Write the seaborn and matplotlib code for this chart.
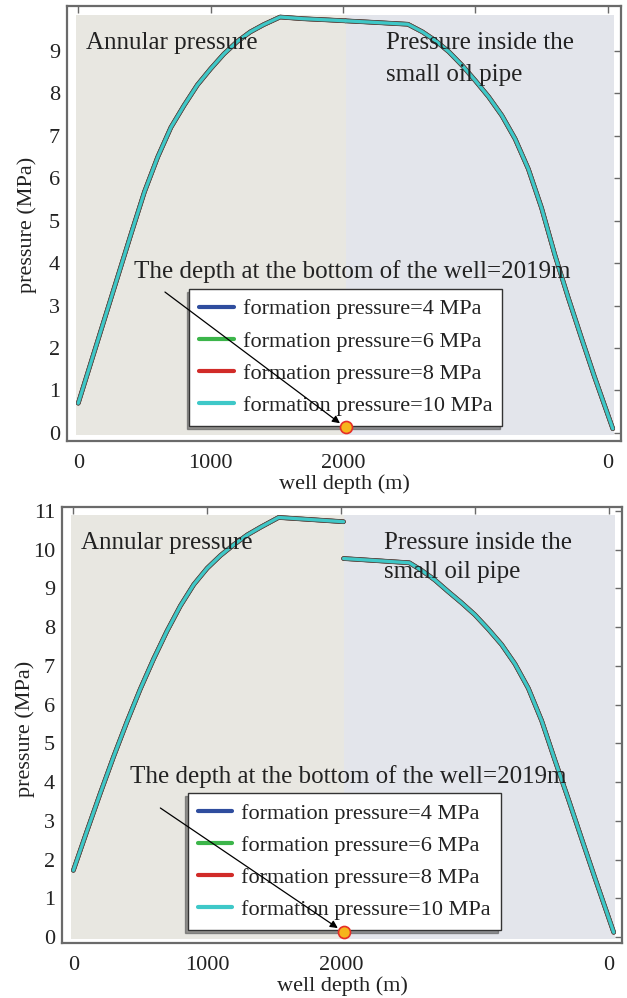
import numpy as np
import pandas as pd
import matplotlib
matplotlib.use("Agg")
import matplotlib.pyplot as plt
from matplotlib.lines import Line2D
from matplotlib.patches import Rectangle
import seaborn as sns

# ---------------- data ----------------
series_names = ["formation pressure=4 MPa", "formation pressure=6 MPa",
                "formation pressure=8 MPa", "formation pressure=10 MPa"]
series_colors = ["#2f4d9e", "#3cb54a", "#d12b28", "#3ec8c8"]

# top panel
top_ann_depth = [0, 100, 200, 300, 400, 500, 600, 700, 800, 900, 1000, 1100, 1200, 1300, 1400, 1525, 1700, 1900, 2019]
top_ann_p = [0.70, 1.70, 2.70, 3.70, 4.70, 5.68, 6.50, 7.20, 7.72, 8.20, 8.58, 8.93, 9.22, 9.45, 9.62, 9.80, 9.76, 9.73, 9.71]
top_tub_depth = [2019, 2200, 2490, 2600, 2700, 2800, 2900, 3000, 3100, 3200, 3300, 3400, 3500, 3600, 3700, 3800, 3900, 4038]
top_tub_p = [9.71, 9.68, 9.63, 9.45, 9.24, 8.98, 8.66, 8.30, 7.92, 7.48, 6.93, 6.22, 5.30, 4.20, 3.20, 2.25, 1.32, 0.10]

# bottom panel
bot_ann_depth = [0, 100, 200, 300, 400, 500, 600, 700, 800, 900, 1000, 1100, 1200, 1300, 1400, 1534, 1800, 2019]
bot_ann_p = [1.72, 2.72, 3.70, 4.65, 5.55, 6.40, 7.18, 7.90, 8.55, 9.10, 9.52, 9.85, 10.13, 10.38, 10.58, 10.83, 10.77, 10.72]
bot_tub_depth = [2019, 2200, 2511, 2600, 2700, 2800, 2900, 3000, 3100, 3200, 3300, 3400, 3500, 3600, 3700, 3800, 3900, 4038]
bot_tub_p = [9.77, 9.73, 9.66, 9.47, 9.22, 8.92, 8.63, 8.32, 7.95, 7.55, 7.05, 6.42, 5.58, 4.55, 3.55, 2.52, 1.50, 0.12]

x_ticks = [0, 1000, 2000, 3000, 4000]
x_tick_labels = ["0", "1000", "2000", "", "0"]
bottom_depth = 2019
bottom_marker_p = 0.13

# ---------------- style ----------------
sns.set_theme(style="white")
plt.rcParams["font.family"] = ["Liberation Serif", "DejaVu Serif"]

warm_bg = "#e8e7e1"
cool_bg = "#e3e5eb"
spine_col = "#6a6a6a"
text_col = "#222222"


def build_df(ann_d, ann_p, tub_d, tub_p):
    rows = []
    for name in series_names:
        for d, p in zip(ann_d, ann_p):
            rows.append((name, "annulus", d, p))
        for d, p in zip(tub_d, tub_p):
            rows.append((name, "tubing", d, p))
    return pd.DataFrame(rows, columns=["series", "segment", "depth", "pressure"])


fig = plt.figure(figsize=(6.27, 9.98), dpi=100)


def make_panel(rect, ann_d, ann_p, tub_d, tub_p, ylim, yticks, shade_top,
               leg_anchor, text_xy, arrow_start, label_ys, ylabel_pos):
    ax = fig.add_axes(rect)
    ax.set_facecolor("white")
    ax.add_patch(Rectangle((-15, -0.06), bottom_depth + 15, shade_top + 0.06,
                           facecolor=warm_bg, edgecolor="none", zorder=0))
    ax.add_patch(Rectangle((bottom_depth, -0.06), 4045 - bottom_depth, shade_top + 0.06,
                           facecolor=cool_bg, edgecolor="none", zorder=0))
    df = build_df(ann_d, ann_p, tub_d, tub_p)
    sns.lineplot(data=df, x="depth", y="pressure", hue="series", units="segment",
                 estimator=None, sort=False, palette=dict(zip(series_names, series_colors)),
                 size="series", sizes=dict(zip(series_names, [3.4, 3.1, 3.2, 2.3])),
                 legend=False, ax=ax, zorder=3)
    lines = ax.get_lines()
    for ln in lines[:-2]:
        ln.set_color("#5a4a44")
    for ln in lines:
        ln.set_solid_joinstyle("round")
    ax.set_xlim(-85, 4100)
    ax.set_ylim(*ylim)
    ax.set_xticks(x_ticks)
    ax.set_xticklabels(x_tick_labels)
    ax.set_yticks(yticks)
    ax.set_yticklabels([str(v) for v in yticks])
    ax.tick_params(direction="in", length=5, width=1.0, color=spine_col,
                   top=True, right=True, labelsize=16, labelcolor=text_col, pad=5)
    ax.tick_params(axis="x", pad=9)
    for s in ax.spines.values():
        s.set_color(spine_col)
        s.set_linewidth(1.6)
    ax.set_xlabel("well depth (m)", fontsize=16, color=text_col, labelpad=1)
    ax.set_ylabel("pressure (MPa)", fontsize=16, color=text_col)
    ax.yaxis.set_label_coords(*ylabel_pos)

    ax.text(58, label_ys[0], "Annular pressure", fontsize=18,
            color=text_col, va="center", ha="left")
    ax.text(2325, label_ys[0], "Pressure inside the", fontsize=18,
            color=text_col, va="center", ha="left")
    ax.text(2325, label_ys[1], "small oil pipe", fontsize=18,
            color=text_col, va="center", ha="left")

    handles = [Line2D([0], [0], color=c, lw=3.0) for c in series_colors]
    leg = ax.legend(handles, series_names, loc="lower left", bbox_to_anchor=leg_anchor,
                    borderaxespad=0, fontsize=16, frameon=True, fancybox=False,
                    shadow={"ox": -2, "oy": -2, "alpha": 0.55},
                    handlelength=1.55, handletextpad=0.4, labelspacing=0.52,
                    borderpad=0.45, framealpha=1)
    leg.get_frame().set_edgecolor("#333333")
    leg.get_frame().set_linewidth(1.0)
    leg.set_zorder(4)
    for t in leg.get_texts():
        t.set_color(text_col)

    ax.text(text_xy[0], text_xy[1], "The depth at the bottom of the well=2019m",
            fontsize=18, color=text_col, ha="left", va="center", zorder=6)
    ax.annotate("", xy=(bottom_depth, bottom_marker_p), xytext=arrow_start,
                arrowprops=dict(arrowstyle="-|>", color="black", lw=0.9,
                                mutation_scale=11, shrinkA=0, shrinkB=5), zorder=6)
    sns.scatterplot(x=[bottom_depth], y=[bottom_marker_p], s=75, color="#f6b51c",
                    edgecolor="#e62e28", linewidth=1.2, ax=ax, zorder=7, legend=False)
    return ax


W, H = 627.0, 998.0
ax1 = make_panel([67 / W, 1 - 441 / H, (621 - 67) / W, (441 - 6) / H],
                 top_ann_depth, top_ann_p, top_tub_depth, top_tub_p,
                 ylim=(-0.19, 10.06), yticks=list(range(0, 10)), shade_top=9.85,
                 leg_anchor=(0.221, 0.035), text_xy=(420, 3.80),
                 arrow_start=(655, 3.32), label_ys=(9.19, 8.44),
                 ylabel_pos=(-0.054, 0.497))
ax2 = make_panel([62 / W, 1 - 943 / H, (622 - 62) / W, (943 - 507) / H],
                 bot_ann_depth, bot_ann_p, bot_tub_depth, bot_tub_p,
                 ylim=(-0.155, 11.10), yticks=list(range(0, 12)), shade_top=10.9,
                 leg_anchor=(0.225, 0.03), text_xy=(420, 4.15),
                 arrow_start=(650, 3.33), label_ys=(10.18, 9.43),
                 ylabel_pos=(-0.048, 0.49))

fig.savefig("out.png", dpi=100)
